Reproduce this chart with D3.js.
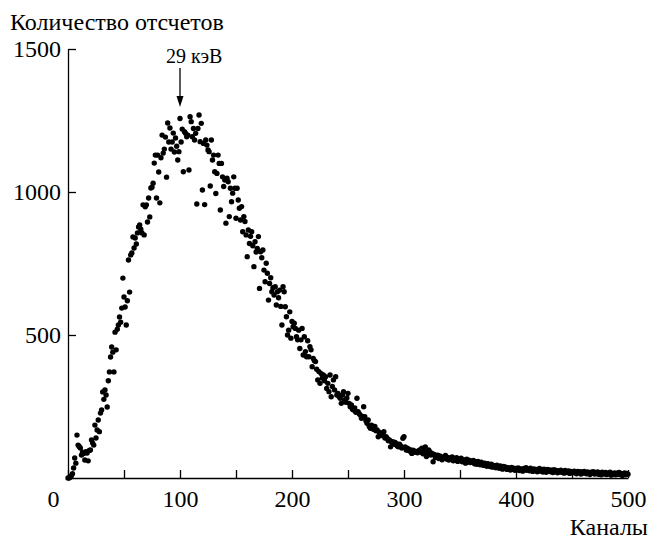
<!DOCTYPE html>
<html>
<head>
<meta charset="utf-8">
<script src="https://cdn.jsdelivr.net/npm/d3@7"></script>
<style>
    body { margin: 0; background: #fff; }
    svg text { font-family: "Liberation Serif", "Times New Roman", serif; fill: #000; }
    .axis path, .axis line { stroke: #000; stroke-width: 1.3; }
</style>
</head>
<body>
<svg id="chart" width="649" height="539"></svg>
<script>
// DATA
var yTitle = "Количество отсчетов";
var xTitle = "Каналы";
var peakChannel = 100;
var peakLabel = "29 кэВ";
var xTickValues = [0, 50, 100, 150, 200, 250, 300, 350, 400, 450, 500];
var xTickLabels = ["0", "", "100", "", "200", "", "300", "", "400", "", "500"];
var yTickValues = [500, 1000, 1500];

// counts per channel, channel 0 .. 500
var counts = [
    0, 0, 3, 8, 15, 35, 70, 52, 150, 115,
    110, 105, 80, 90, 86, 63, 92, 87, 60, 96,
    98, 133, 122, 115, 185, 140, 168, 203, 162, 227,
    238, 301, 275, 308, 290, 248, 340, 371, 423, 458,
    440, 371, 510, 448, 520, 535, 563, 545, 594, 699,
    633, 598, 535, 620, 762, 650, 780, 787, 843, 804,
    839, 818, 857, 878, 885, 870, 857, 955, 850, 948,
    955, 895, 979, 913, 1014, 1017, 1031, 1101, 1129, 979,
    1129, 1070, 962, 1120, 1199, 1136, 1150, 1192, 1052, 1241,
    1175, 1224, 1150, 1175, 1206, 1140, 1189, 1160, 1112, 1141,
    1257, 1175, 1220, 1071, 1211, 1205, 1193, 1199, 1077, 1263,
    1246, 1193, 1222, 1182, 1205, 958, 1222, 1269, 1176, 1240,
    1007, 1170, 956, 1182, 1164, 1147, 1141, 1021, 1182, 1112,
    1129, 1071, 995, 1065, 1129, 1100, 937, 1100, 1053, 1019,
    1042, 891, 1048, 1036, 914, 1013, 966, 996, 1053, 1013,
    908, 1013, 972, 943, 902, 949, 861, 914, 897, 850,
    774, 867, 820, 845, 861, 812, 739, 826, 790, 803,
    844, 663, 791, 770, 797, 727, 686, 751, 716, 622,
    680, 700, 651, 665, 640, 669, 605, 651, 630, 657,
    600, 535, 669, 651, 599, 564, 500, 517, 581, 489,
    547, 529, 541, 523, 494, 483, 517, 453, 483, 523,
    430, 494, 442, 424, 480, 424, 459, 448, 389, 418,
    410, 407, 380, 343, 372, 331, 365, 350, 360, 340,
    354, 313, 331, 302, 360, 284, 320, 343, 308, 354,
    290, 296, 285, 279, 261, 290, 302, 273, 265, 280,
    296, 261, 249, 255, 240, 238, 245, 230, 279, 232,
    225, 220, 209, 215, 249, 214, 200, 191, 203, 180,
    174, 185, 178, 170, 180, 165, 168, 144, 160, 156,
    150, 148, 162, 140, 144, 138, 130, 133, 109, 125,
    127, 118, 124, 121, 112, 109, 118, 112, 105, 139,
    144, 109, 98, 104, 96, 100, 92, 86, 97, 90,
    94, 92, 88, 95, 98, 90, 104, 85, 93, 109,
    75, 88, 98, 92, 80, 86, 57, 82, 72, 75,
    80, 68, 77, 71, 64, 74, 69, 79, 66, 72,
    63, 70, 65, 74, 60, 68, 63, 71, 58, 66,
    62, 69, 57, 64, 60, 52, 66, 58, 62, 54,
    60, 55, 61, 50, 57, 48, 58, 53, 46, 55,
    49, 44, 52, 47, 41, 50, 45, 40, 48, 38,
    44, 41, 36, 45, 39, 34, 42, 37, 31, 40,
    35, 38, 30, 36, 33, 28, 37, 31, 34, 27,
    33, 29, 35, 26, 32, 30, 24, 33, 28, 36,
    27, 31, 25, 34, 29, 23, 32, 27, 30, 22,
    28, 33, 24, 29, 21, 31, 26, 20, 30, 25,
    28, 22, 27, 19, 29, 24, 26, 18, 25, 21,
    27, 20, 24, 17, 26, 22, 19, 25, 16, 23,
    21, 18, 24, 20, 15, 23, 19, 22, 14, 21,
    17, 23, 18, 15, 21, 17, 12, 20, 16, 22,
    14, 19, 15, 21, 13, 18, 11, 20, 16, 14,
    19, 12, 17, 15, 20, 10, 16, 13, 18, 11,
    17, 14, 19, 12, 16, 9, 15, 18, 11, 16,
    13
];

function SpectrumChart(svgContainer) {
    var self = this;
    var _svg = svgContainer;

    // UI dimensions
    var _left = 68, _right = 628, _top = 49, _bottom = 478;
    var _fontSize = 24;
    var _dotRadius = 2.7;

    var _x = d3.scaleLinear().domain([0, 500]).range([_left, _right]);
    var _y = d3.scaleLinear().domain([0, 1500]).range([_bottom, _top]);

    var drawAxes = function() {
        var xAxis = d3.axisBottom(_x)
            .tickValues(xTickValues)
            .tickFormat(function(d, i) { return xTickLabels[i]; })
            .tickSizeInner(-8)
            .tickSizeOuter(0)
            .tickPadding(12);

        var gx = _svg.append("g")
            .classed("axis", true)
            .attr("transform", "translate(0," + _bottom + ")")
            .call(xAxis);
        gx.selectAll("text")
            .attr("font-size", _fontSize);
        // corner label sits left of the origin
        gx.selectAll(".tick")
            .filter(function(d) { return d === 0; })
            .select("text")
            .attr("x", -15);

        var yAxis = d3.axisLeft(_y)
            .tickValues(yTickValues)
            .tickFormat(d3.format("d"))
            .tickSizeInner(-8)
            .tickSizeOuter(0)
            .tickPadding(7);

        var gy = _svg.append("g")
            .classed("axis", true)
            .attr("transform", "translate(" + _left + ",0)")
            .call(yAxis);
        gy.selectAll("text")
            .attr("font-size", _fontSize);

        _svg.append("text")
            .attr("x", 10)
            .attr("y", 30)
            .attr("font-size", _fontSize)
            .text(yTitle);

        _svg.append("text")
            .attr("x", 648)
            .attr("y", 535)
            .attr("font-size", _fontSize)
            .style("text-anchor", "end")
            .text(xTitle);
    };

    var drawPoints = function() {
        _svg.append("g")
            .selectAll("circle")
            .data(counts)
            .enter()
            .append("circle")
                .attr("cx", function(d, i) { return _x(i); })
                .attr("cy", function(d) { return _y(d); })
                .attr("r", _dotRadius)
                .attr("fill", "#000");
    };

    var drawPeakMarker = function() {
        var px = _x(peakChannel);
        var g = _svg.append("g");

        g.append("line")
            .attr("x1", px).attr("x2", px)
            .attr("y1", 68).attr("y2", 100)
            .attr("stroke", "#000")
            .attr("stroke-width", 1.3);

        g.append("path")
            .attr("d", "M" + (px - 3.5) + ",96 L" + (px + 3.5) + ",96 L" + px + ",107 Z")
            .attr("fill", "#000");

        g.append("text")
            .attr("x", px - 14)
            .attr("y", 63)
            .attr("font-size", 20)
            .text(peakLabel);
    };

    var init = function() {
        drawAxes();
        drawPoints();
        drawPeakMarker();
    } ();
}

new SpectrumChart(d3.select("#chart"));
</script>
</body>
</html>
